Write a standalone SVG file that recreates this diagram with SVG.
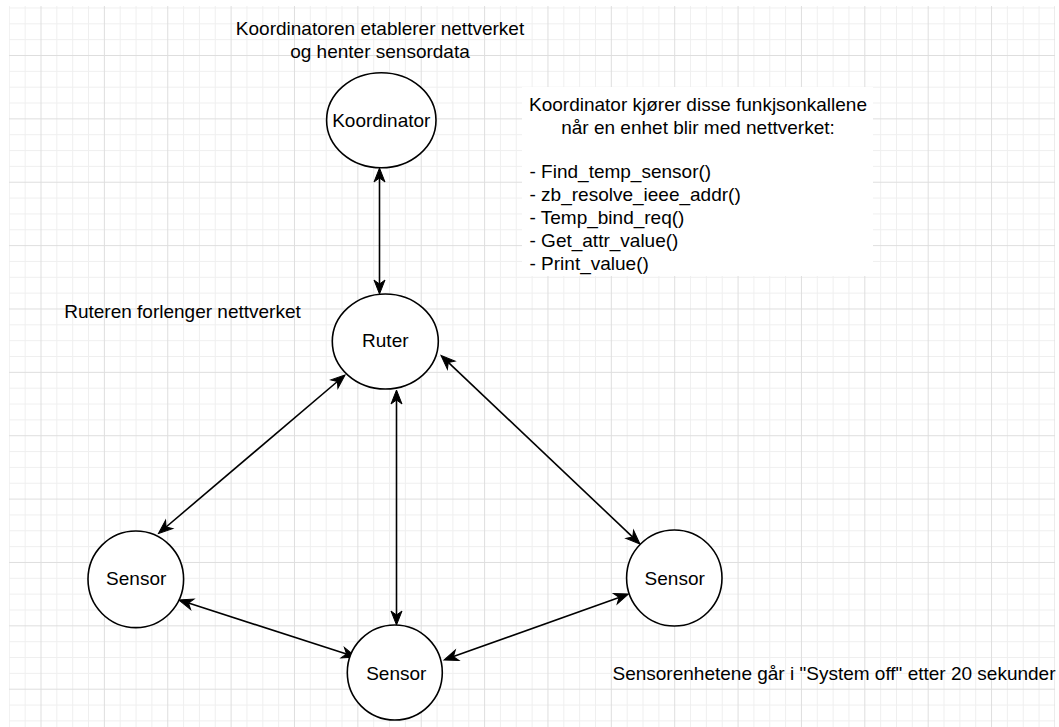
<svg xmlns="http://www.w3.org/2000/svg" width="1059" height="727" viewBox="0 0 1059 727">
  <style>
    .node ellipse { fill: #ffffff; stroke: #000000; stroke-width: 1.6; }
    .label { font-family: "Liberation Sans", Arial, Helvetica, sans-serif; font-size: 19px; fill: #000000; }
    .mid { text-anchor: middle; }
    .edge { fill: none; stroke: #000000; stroke-width: 1.6; marker-start: url(#arrow); marker-end: url(#arrow); }
  </style>
  <defs>
    <!-- 10-unit grid, scaled; heavier line every 4 cells -->
    <pattern id="grid" patternUnits="userSpaceOnUse" x="40.5" y="55" width="63.37" height="63.37">
      <path d="M16.34,0V63.37M32.19,0V63.37M48.03,0V63.37M0,16.34H63.37M0,32.19H63.37M0,48.03H63.37" stroke="#efefef" stroke-width="1" fill="none"/>
      <path d="M0.5,0V63.37M0,0.5H63.37" stroke="#dedede" stroke-width="1" fill="none"/>
    </pattern>
    <!-- classic arrowhead; line ends 10px short of the tip -->
    <marker id="arrow" viewBox="-16 -8 18 16" refX="-10" refY="0" markerWidth="18" markerHeight="16" markerUnits="userSpaceOnUse" orient="auto-start-reverse">
      <path d="M0,0 L-14,-5.5 L-10,0 L-14,5.5 Z" fill="#000000" stroke="#000000" stroke-width="1"/>
    </marker>
  </defs>

  <rect x="0" y="0" width="1059" height="727" fill="#ffffff"/>
  <rect x="9" y="6" width="1046" height="721" fill="url(#grid)"/>

  <!-- free text -->
  <g id="note-coordinator" class="label mid">
    <text x="380" y="35">Koordinatoren etablerer nettverket</text>
    <text x="380" y="58">og henter sensordata</text>
  </g>
  <g id="note-functions">
    <rect x="522" y="87" width="351" height="189" fill="#ffffff"/>
    <g class="label">
      <text x="698" y="111" text-anchor="middle">Koordinator kjører disse funkjsonkallene</text>
      <text x="698" y="133.8" text-anchor="middle">når en enhet blir med nettverket:</text>
      <text x="529.5" y="178.3">- Find_temp_sensor()</text>
      <text x="529.5" y="201.1">- zb_resolve_ieee_addr()</text>
      <text x="529.5" y="223.9">- Temp_bind_req()</text>
      <text x="529.5" y="246.7">- Get_attr_value()</text>
      <text x="529.5" y="269.5">- Print_value()</text>
    </g>
  </g>
  <g id="note-router" class="label mid">
    <text x="182.5" y="318">Ruteren forlenger nettverket</text>
  </g>
  <g id="note-sensors" class="label">
    <text x="612.5" y="679.5">Sensorenhetene går i "System off" etter 20 sekunder</text>
  </g>

  <!-- connectors -->
  <g id="connectors">
    <line class="edge" x1="379.5" y1="178" x2="379.5" y2="284"/>
    <line class="edge" x1="337.4" y1="381.5" x2="166.1" y2="527.0"/>
    <line class="edge" x1="396.5" y1="400" x2="396.5" y2="615"/>
    <line class="edge" x1="448.3" y1="362.4" x2="632.7" y2="537.1"/>
    <line class="edge" x1="188.5" y1="603.1" x2="346.5" y2="653.9"/>
    <line class="edge" x1="453.4" y1="656.6" x2="619.1" y2="597.4"/>
  </g>

  <!-- nodes -->
  <g id="koordinator" class="node">
    <ellipse cx="381.3" cy="120.2" rx="54.7" ry="47.5"/>
    <text class="label mid" x="381.3" y="126.5">Koordinator</text>
  </g>
  <g id="ruter" class="node">
    <ellipse cx="385.3" cy="341.5" rx="53" ry="47.5"/>
    <text class="label mid" x="385.3" y="346.7">Ruter</text>
  </g>
  <g id="sensor-left" class="node">
    <ellipse cx="135.8" cy="579.3" rx="47.8" ry="48.3"/>
    <text class="label mid" x="136.2" y="585">Sensor</text>
  </g>
  <g id="sensor-right" class="node">
    <ellipse cx="674.3" cy="578" rx="47.7" ry="48"/>
    <text class="label mid" x="674.7" y="585">Sensor</text>
  </g>
  <g id="sensor-bottom" class="node">
    <ellipse cx="394.8" cy="672.5" rx="47.5" ry="47.5"/>
    <text class="label mid" x="396.3" y="680">Sensor</text>
  </g>
</svg>
